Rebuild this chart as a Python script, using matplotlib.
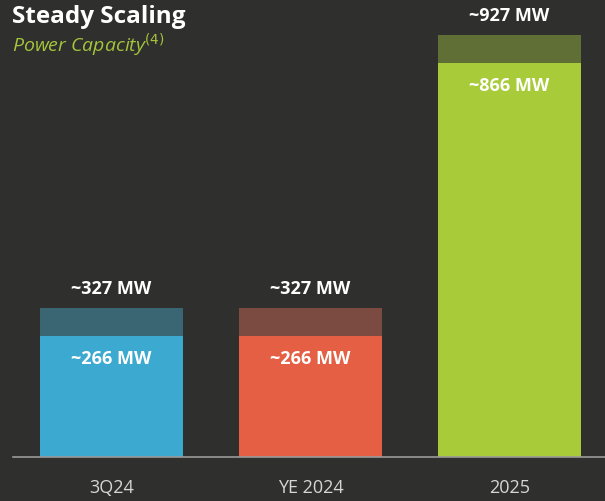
import matplotlib
matplotlib.use("Agg")
import matplotlib.pyplot as plt

categories = ["3Q24", "YE 2024", "2025"]
base_values = [266, 266, 866]
total_values = [327, 327, 927]
base_labels = ["~266 MW", "~266 MW", "~866 MW"]
total_labels = ["~327 MW", "~327 MW", "~927 MW"]
base_colors = ["#3ca9d1", "#e45f44", "#a8cb3a"]
top_colors = ["#3a6572", "#7b4a41", "#606f35"]

BG = "#2f2f2d"
plt.rcParams['font.family'] = ['Open Sans', 'DejaVu Sans']

W, H = 605, 501
fig = plt.figure(figsize=(W / 100, H / 100), dpi=100, facecolor=BG)
base_px = 457
ax = fig.add_axes([13 / W, (H - base_px) / H, 1 - 13 / W, base_px / H])
ax.set_facecolor(BG)
x = list(range(len(categories)))
width = 0.714
ax.bar(x, base_values, width=width, color=base_colors, zorder=2)
ax.bar(x, [t - b for t, b in zip(total_values, base_values)], bottom=base_values,
       width=width, color=top_colors, zorder=2)

ax.set_xlim(-0.495, 2.48)
ax.set_ylim(0, base_px / 0.455)

for xi, b, t, bl, tl in zip(x, base_values, total_values, base_labels, total_labels):
    ax.text(xi, t + 43, tl, ha="center", va="center", color="white",
            fontsize=13, fontweight="bold", zorder=3)
    ax.text(xi, b - 50, bl, ha="center", va="center", color="white",
            fontsize=13, fontweight="bold", zorder=3)

for s in ["top", "right", "left"]:
    ax.spines[s].set_visible(False)
ax.spines["bottom"].set_color("#9a9a9a")
ax.spines["bottom"].set_linewidth(1.2)
ax.set_yticks([])
ax.set_xticks(x)
ax.set_xticklabels(categories, color="#d6d6d6", fontsize=13)
ax.tick_params(axis="x", length=0, pad=16)

fig.text(12 / W, 1 - 17 / H, "Steady Scaling", ha="left", va="center",
         color="white", fontsize=17.5, fontweight="bold")
fig.text(12 / W, 1 - 45 / H, r"Power Capacity$^{(4)}$", ha="left", va="center",
         color="#a3c43b", fontsize=14, style="italic")

fig.savefig("out.png", dpi=100, facecolor=BG)
